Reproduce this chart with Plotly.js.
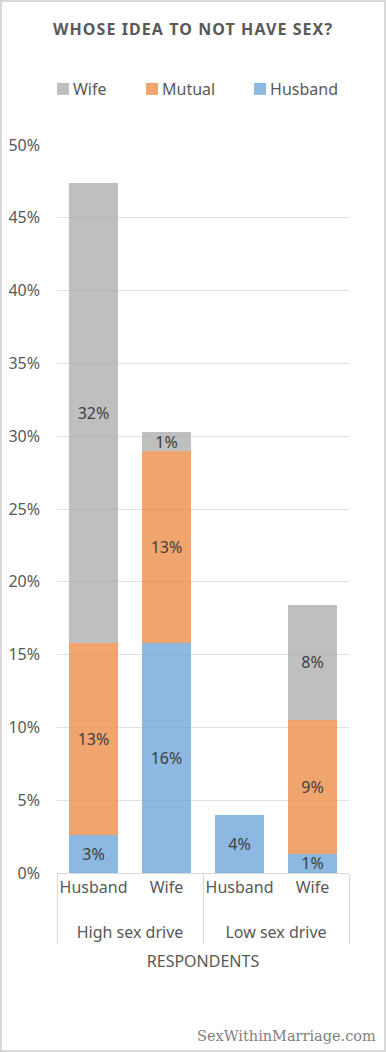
<!DOCTYPE html>
<html>
<head>
<meta charset="utf-8">
<script src="https://cdn.plot.ly/plotly-3.0.1.min.js"></script>
<style>
  html, body { margin: 0; padding: 0; background: #fff; }
  #wrap { position: relative; width: 386px; height: 1052px; }
  #chart { width: 386px; height: 1052px; }
  #frame { position: absolute; left: 0; top: 0; width: 386px; height: 1052px; box-sizing: border-box; border: 2px solid #d9d9d9; pointer-events: none; }
  .gtitle { letter-spacing: 1.08px; }
  .infolayer g.traces text { transform: translateX(-10px); }
</style>
</head>
<body>
<div id="wrap">
  <div id="chart"></div>
  <div id="frame"></div>
</div>
<script>
// Data (share of respondents)
const driveGroups   = ["High sex drive", "High sex drive", "Low sex drive", "Low sex drive"];
const respondents   = ["Husband", "Wife", "Husband", "Wife"];
const husbandIdea   = [0.0263, 0.1579, 0.0395, 0.0132];
const mutualIdea    = [0.1316, 0.1316, null, 0.0921];
const wifeIdea      = [0.3158, 0.0132, null, 0.0789];
const seriesNames   = ["Husband", "Mutual", "Wife"];
const yTickVals     = [0, 0.05, 0.10, 0.15, 0.20, 0.25, 0.30, 0.35, 0.40, 0.45, 0.50];

const fontFam = "Noto Sans, Open Sans, sans-serif";
const colors = {
  Husband: "rgba(111,166,219,0.8)",
  Mutual: "rgba(236,143,74,0.8)",
  Wife: "rgba(175,175,175,0.8)"
};

// first-level labels get an empty second line so the group labels sit lower (as in the reference)
const respondentLabels = respondents.map(function (s) { return s + "<br>\u00a0"; });

function mk(name, vals, legendId) {
  return {
    type: "bar", name: name, x: [driveGroups, respondentLabels], y: vals,
    marker: { color: colors[name], line: { width: 0 } },
    texttemplate: "%{y:.0%}", textposition: "inside", insidetextanchor: "middle",
    constraintext: "none", textfont: { family: fontFam, size: 16, color: "#404040" },
    hoverinfo: "skip", legend: legendId
  };
}
const data = [
  mk(seriesNames[0], husbandIdea, "legend3"),
  mk(seriesNames[1], mutualIdea, "legend2"),
  mk(seriesNames[2], wifeIdea, "legend")
];
const legBase = {
  orientation: "h", yref: "container", y: 1 - 89 / 1052, yanchor: "middle", xanchor: "left",
  bgcolor: "rgba(0,0,0,0)", borderwidth: 0,
  font: { family: fontFam, size: 16, color: "#595959" }
};
const layout = {
  width: 386, height: 1052,
  margin: { l: 57, r: 37, t: 145, b: 179 },
  paper_bgcolor: "#ffffff", plot_bgcolor: "#ffffff",
  barmode: "stack", bargap: 0.34, showlegend: true,
  title: {
    text: "<b>WHOSE IDEA TO NOT HAVE SEX?</b>",
    font: { family: fontFam, size: 16, color: "#595959" },
    x: 0.5, xanchor: "center", yref: "container", y: 1 - 29 / 1052, yanchor: "middle"
  },
  legend: Object.assign({}, legBase, { x: -0.048 }),
  legend2: Object.assign({}, legBase, { x: 0.257 }),
  legend3: Object.assign({}, legBase, { x: 0.627 }),
  xaxis: {
    type: "multicategory", tickangle: 0, showline: true, linecolor: "#d9d9d9", linewidth: 1,
    showdividers: true, dividercolor: "#d9d9d9", dividerwidth: 1, ticks: "",
    tickfont: { family: fontFam, size: 16, color: "#595959" },
    title: { text: "RESPONDENTS", font: { family: fontFam, size: 16, color: "#595959" }, standoff: 13 },
    fixedrange: true
  },
  yaxis: {
    range: [0, 0.5], tickvals: yTickVals, tickformat: ".0%", showgrid: true,
    gridcolor: "#e0e0e0", gridwidth: 1, zeroline: false, showline: false, ticks: "",
    ticklabelstandoff: 16, tickfont: { family: fontFam, size: 16, color: "#595959" }, fixedrange: true
  },
  annotations: [{
    text: "SexWithinMarriage.com", xref: "paper", yref: "paper",
    x: (378 - 57) / 292, y: (873 - 1036) / 728, xanchor: "right", yanchor: "middle", showarrow: false,
    font: { family: "DejaVu Serif, Liberation Serif, serif", size: 14.5, color: "#7f7f7f" }
  }]
};
Plotly.newPlot("chart", data, layout, { displayModeBar: false, staticPlot: true });
</script>
</body>
</html>
